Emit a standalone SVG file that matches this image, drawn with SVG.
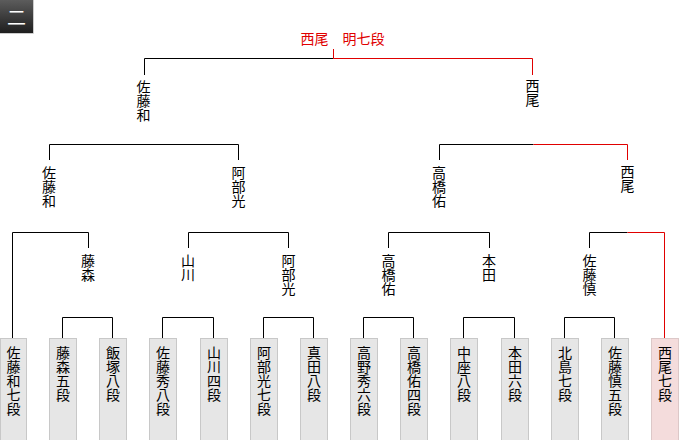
<svg xmlns="http://www.w3.org/2000/svg" width="680" height="440" viewBox="0 0 680 440">
<defs>
<linearGradient id="badgeGrad" x1="0" y1="0" x2="0" y2="1">
<stop offset="0" stop-color="#5c5c5c"/>
<stop offset="1" stop-color="#1e1e1e"/>
</linearGradient>
<style>
.v{font-family:"Noto Sans CJK JP","Noto Sans CJK SC",sans-serif;font-size:14px;writing-mode:vertical-rl;text-orientation:upright;fill:#000}
.box{fill:#e6e6e6;stroke:#c8c8c8;stroke-width:1}
.win{fill:#f4dcdc;stroke:#dcc8c8;stroke-width:1}
.k{fill:none;stroke:#000;stroke-width:1}
.r{fill:none;stroke:#e00000;stroke-width:1}
.title{font-family:"Noto Sans CJK JP","Noto Sans CJK SC",sans-serif;font-size:14px;fill:#e00000}
</style>
</defs>
<rect width="680" height="440" fill="#ffffff"/>

<g id="badge">
<rect x="0" y="0" width="33" height="33" fill="url(#badgeGrad)"/>
<path d="M33.5 0 V33.5 H0" fill="none" stroke="#cccccc"/>
<text x="16.5" y="16.5" text-anchor="middle" dominant-baseline="central" font-family="'Noto Sans CJK JP','Noto Sans CJK SC',sans-serif" font-size="19" fill="#ffffff">二</text>
</g>

<g id="connectors">
<!-- round 1 -->
<path class="k" d="M62.5 338 V317.5 H112.5 V338"/>
<path class="k" d="M162.5 338 V317.5 H213.5 V338"/>
<path class="k" d="M263.5 338 V317.5 H313.5 V338"/>
<path class="k" d="M363.5 338 V317.5 H413.5 V338"/>
<path class="k" d="M463.5 338 V317.5 H514.5 V338"/>
<path class="k" d="M564.5 338 V317.5 H614.5 V338"/>
<!-- round 2 -->
<path class="k" d="M12.5 338 V232.5 H88.5 V248"/>
<path class="k" d="M188.5 248 V232.5 H288.5 V248"/>
<path class="k" d="M388.5 248 V232.5 H489.5 V248"/>
<path class="k" d="M589.5 248 V232.5 H627.5"/>
<path class="r" d="M627.5 232.5 H664.5 V338"/>
<!-- round 3 -->
<path class="k" d="M49.5 160 V144.5 H238.5 V160"/>
<path class="k" d="M439.5 160 V144.5 H533.5"/>
<path class="r" d="M533.5 144.5 H627.5 V160"/>
<!-- final -->
<path class="k" d="M144.5 75 V58.5 H333.5"/>
<path class="r" d="M333.5 58.5 H532.5 V75"/>
<path class="r" d="M333.5 58.5 V49"/>
</g>

<g id="champion">
<text class="title" x="300.5" y="44">西尾　明七段</text>
</g>

<g id="final-left"><text class="v" x="143.5" y="80">佐藤和</text></g>
<g id="final-right"><text class="v" x="532.5" y="79">西尾</text></g>

<g id="sf-1"><text class="v" x="49" y="166">佐藤和</text></g>
<g id="sf-2"><text class="v" x="238.5" y="166">阿部光</text></g>
<g id="sf-3"><text class="v" x="439" y="166">高橋佑</text></g>
<g id="sf-4"><text class="v" x="627.5" y="165">西尾</text></g>

<g id="qf-1"><text class="v" x="88" y="254">藤森</text></g>
<g id="qf-2"><text class="v" x="188" y="254">山川</text></g>
<g id="qf-3"><text class="v" x="288.5" y="254">阿部光</text></g>
<g id="qf-4"><text class="v" x="388.5" y="254">高橋佑</text></g>
<g id="qf-5"><text class="v" x="489" y="254">本田</text></g>
<g id="qf-6"><text class="v" x="589.5" y="254">佐藤慎</text></g>

<g id="p1"><rect class="box" x="0.5" y="338.5" width="26" height="102"/><text class="v" x="13.5" y="345.5">佐藤和七段</text></g>
<g id="p2"><rect class="box" x="49.5" y="338.5" width="27" height="102"/><text class="v" x="63" y="345.5">藤森五段</text></g>
<g id="p3"><rect class="box" x="99.5" y="338.5" width="27" height="102"/><text class="v" x="113" y="345.5">飯塚八段</text></g>
<g id="p4"><rect class="box" x="149.5" y="338.5" width="27" height="102"/><text class="v" x="163" y="345.5">佐藤秀八段</text></g>
<g id="p5"><rect class="box" x="200.5" y="338.5" width="27" height="102"/><text class="v" x="214" y="345.5">山川四段</text></g>
<g id="p6"><rect class="box" x="250.5" y="338.5" width="27" height="102"/><text class="v" x="264" y="345.5">阿部光七段</text></g>
<g id="p7"><rect class="box" x="300.5" y="338.5" width="27" height="102"/><text class="v" x="314" y="345.5">真田八段</text></g>
<g id="p8"><rect class="box" x="350.5" y="338.5" width="27" height="102"/><text class="v" x="364" y="345.5">高野秀六段</text></g>
<g id="p9"><rect class="box" x="400.5" y="338.5" width="27" height="102"/><text class="v" x="414" y="345.5">高橋佑四段</text></g>
<g id="p10"><rect class="box" x="450.5" y="338.5" width="27" height="102"/><text class="v" x="464" y="345.5">中座八段</text></g>
<g id="p11"><rect class="box" x="501.5" y="338.5" width="27" height="102"/><text class="v" x="515" y="345.5">本田六段</text></g>
<g id="p12"><rect class="box" x="551.5" y="338.5" width="27" height="102"/><text class="v" x="565" y="345.5">北島七段</text></g>
<g id="p13"><rect class="box" x="601.5" y="338.5" width="27" height="102"/><text class="v" x="615" y="345.5">佐藤慎五段</text></g>
<g id="p14"><rect class="win" x="651.5" y="338.5" width="27" height="102"/><text class="v" x="665" y="345.5">西尾七段</text></g>
</svg>
